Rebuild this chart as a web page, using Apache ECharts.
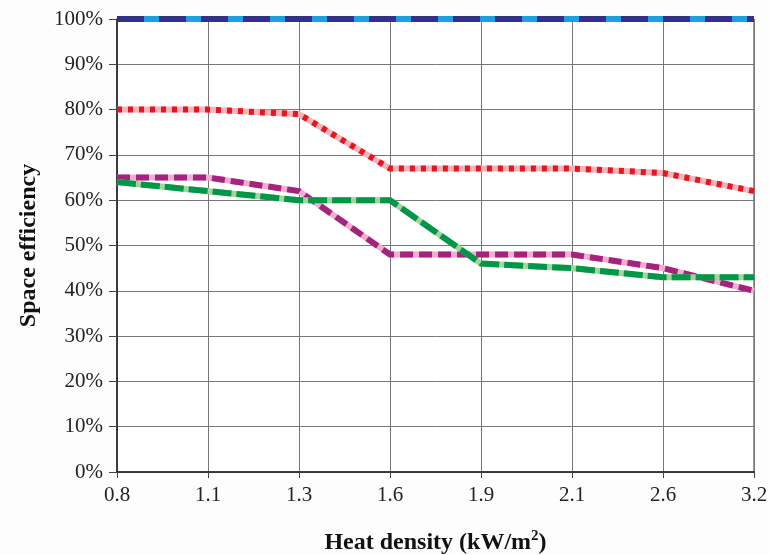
<!DOCTYPE html>
<html>
<head>
<meta charset="utf-8">
<script src="https://cdn.jsdelivr.net/npm/echarts@6/dist/echarts.min.js"></script>
<style>
html,body{margin:0;padding:0;background:#fdfdfd;}
#c{width:769px;height:555px;}
</style>
</head>
<body>
<div id="c"></div>
<script>
var categories = ['0.8','1.1','1.3','1.6','1.9','2.1','2.6','3.2'];
var blueSeries   = [100,100,100,100,100,100,100,100];
var redSeries    = [80,80,79,67,67,67,66,62];
var purpleSeries = [65,65,62,48,48,48,45,40];
var greenSeries  = [64,62,60,60,46,45,43,43];
var yTicks = [0,10,20,30,40,50,60,70,80,90,100];

function line(data, color, width, dash, z) {
  return {
    type: 'line', data: data, symbol: 'none', z: z, silent: true,
    lineStyle: {color: color, width: width, type: dash, cap: 'butt', join: 'miter'}
  };
}

var chart = echarts.init(document.getElementById('c'), null, {renderer: 'canvas'});
chart.setOption({
  backgroundColor: '#fdfdfd',
  animation: false,
  grid: {left: 117, right: 15, top: 19, bottom: 83, show: true, backgroundColor: '#ffffff', borderColor: '#333', borderWidth: 1,
    containLabel: false, outerBoundsMode: 'none'},
  xAxis: {
    type: 'category', data: categories, boundaryGap: false,
    axisLine: {lineStyle: {color: '#222', width: 1.5}},
    axisTick: {show: true, alignWithLabel: true, length: 6, lineStyle: {color: '#444'}},
    axisLabel: {fontFamily: 'Liberation Serif', fontSize: 21, color: '#222', margin: 13},
    splitLine: {show: true, lineStyle: {color: '#777', width: 1}},
    name: 'Heat density (kW/m{sup|2})',
    nameLocation: 'middle', nameGap: 57,
    nameTextStyle: {fontFamily: 'Liberation Serif', fontSize: 24, fontWeight: 'bold', color: '#111',
      rich: {sup: {fontFamily: 'Liberation Serif', fontSize: 15, fontWeight: 'bold', color: '#111', padding: [0,0,12,0]}}}
  },
  yAxis: {
    type: 'value', min: 0, max: 100, interval: 10,
    axisLine: {show: true, lineStyle: {color: '#222', width: 1.5}},
    axisTick: {show: true, length: 8, lineStyle: {color: '#444'}},
    axisLabel: {fontFamily: 'Liberation Serif', fontSize: 21, color: '#222', margin: 14,
      formatter: function(v){ return v + '%'; }},
    splitLine: {show: true, lineStyle: {color: '#777', width: 1}},
    name: 'Space efficiency', nameLocation: 'middle', nameGap: 76, nameRotate: 90,
    nameTextStyle: {fontFamily: 'Liberation Serif', fontSize: 24, fontWeight: 'bold', color: '#111'}
  },
  series: [
    line(blueSeries, '#1f9fe0', 6, 'solid', 2),
    line(blueSeries, '#33308a', 6, [27, 15], 3),
    line(redSeries, '#f6b3bb', 6, 'solid', 4),
    line(redSeries, '#e8141e', 6, [5, 6], 5),
    line(purpleSeries, '#f2aed0', 6, 'solid', 6),
    line(purpleSeries, '#a3237f', 6, [13, 6], 7),
    line(greenSeries, '#a6d39a', 6, 'solid', 8),
    line(greenSeries, '#009748', 6, [19, 5], 9)
  ]
});
</script>
</body>
</html>
